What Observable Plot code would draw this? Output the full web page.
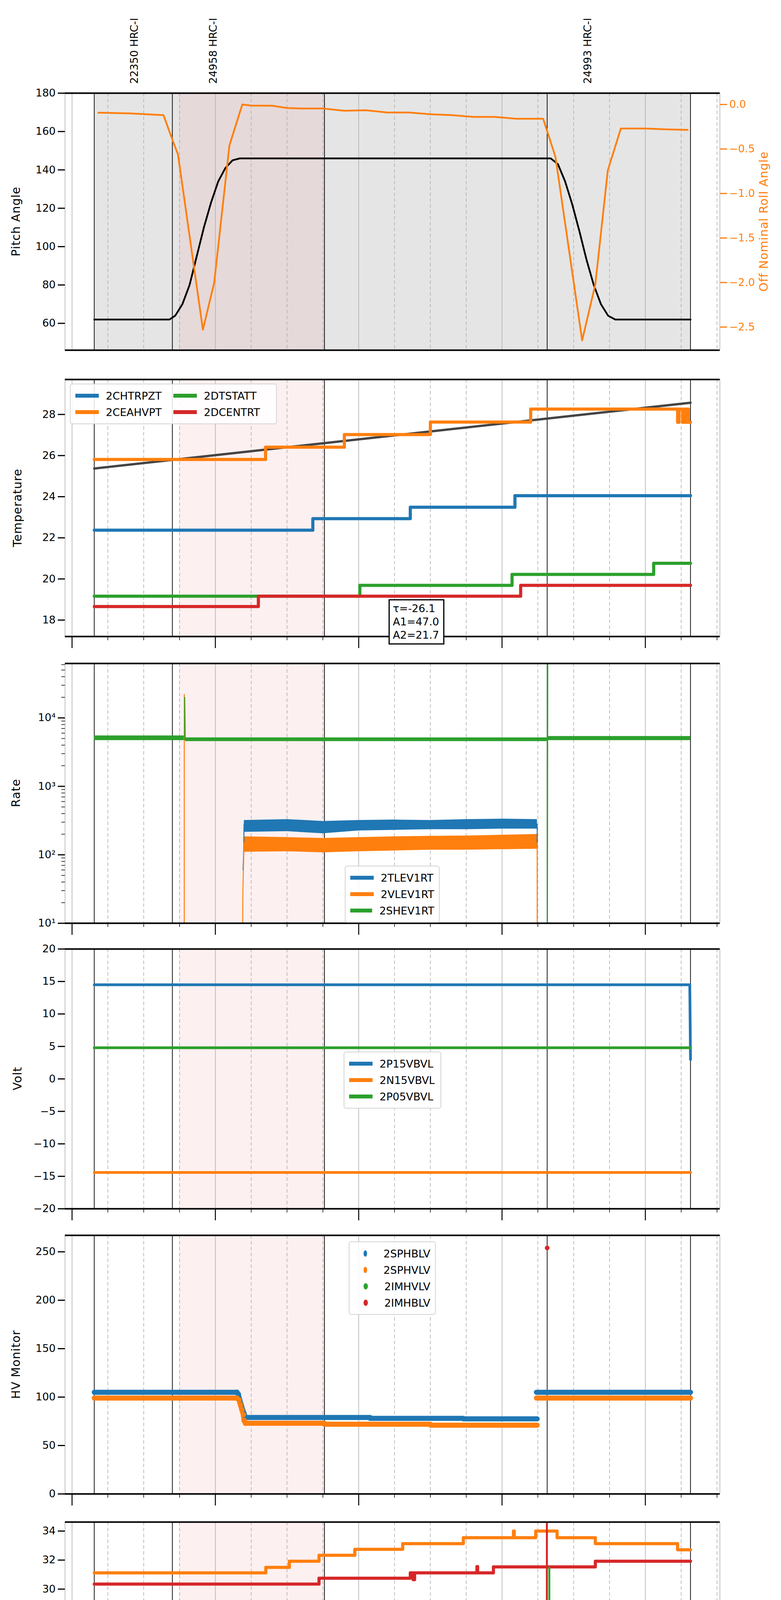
<!DOCTYPE html>
<html><head><meta charset="utf-8">
<script src="https://cdn.jsdelivr.net/npm/d3@7"></script>
<script src="https://cdn.jsdelivr.net/npm/@observablehq/plot@0.6"></script>
<style>
body{margin:0;background:#fff;font-family:"DejaVu Sans",sans-serif}
#c{position:relative;width:2000px;height:5400px;overflow:hidden}
#c svg{position:absolute;left:0;overflow:visible}
.lg{position:absolute;border:2px solid #d4d4d4;border-radius:6px;background:rgba(255,255,255,0.85);font-size:27px;padding:8px 12px;box-sizing:border-box}
.row{height:42px;display:flex;align-items:center;white-space:nowrap}
.hd{width:60px;height:10px;margin-right:18px}
.dt{width:12px;height:16px;border-radius:50%;margin:0 42px 0 24px}
.yl{position:absolute;font-size:30px;white-space:nowrap;transform:translate(-50%,-50%) rotate(-90deg);letter-spacing:1px}
</style></head><body><div id="c"></div>
<script>
// ---------- data ----------
const xDomain = [6.951, 11.52];
const hourTicks = [7, 8, 9, 10, 11];
const quarterTicks = [7.25,7.5,7.75,8.25,8.5,8.75,9.25,9.5,9.75,10.25,10.5,10.75,11.25,11.5];
const hourLabels = ["07h","08h","09h","10h","11h"];
const quarterLabels = ["15","30","45","15","30","45","15","30","45","15","30","45","15","30"];
const blackLines = [7.155, 7.70, 8.761, 10.315, 11.315];
const pinkSpan = [7.747, 8.761];
const graySpan = [7.155, 11.315];
const obsNames = ["22350 HRC-I","24958 HRC-I","24993 HRC-I"];
const obsTimes = [7.436, 7.987, 10.6];
const obsBold = [false, true, false];

const pitch = [[7.155,62],[7.68,62],[7.72,64],[7.77,70],[7.82,80],[7.87,95],[7.92,110],[7.97,123],[8.02,134],[8.07,141],[8.12,145],[8.17,146],[10.34,146],[10.39,143],[10.44,134],[10.49,122],[10.54,108],[10.59,93],[10.64,80],[10.69,70],[10.74,64],[10.79,62],[11.315,62]];
const roll = [[7.183,-0.092],[7.4,-0.1],[7.638,-0.12],[7.708,-0.43],[7.739,-0.56],[7.913,-2.53],[7.992,-2.0],[8.098,-0.46],[8.188,0.0],[8.25,-0.012],[8.4,-0.015],[8.5,-0.04],[8.6,-0.045],[8.75,-0.045],[8.9,-0.07],[9.05,-0.065],[9.2,-0.09],[9.35,-0.09],[9.5,-0.11],[9.65,-0.12],[9.8,-0.14],[9.95,-0.14],[10.1,-0.16],[10.287,-0.16],[10.373,-0.59],[10.559,-2.65],[10.651,-2.02],[10.738,-0.74],[10.829,-0.27],[11.0,-0.27],[11.15,-0.28],[11.295,-0.285]];
const rollTicks = [0,-0.5,-1,-1.5,-2,-2.5];

const t2CHTRPZT = [[7.155,22.37],[8.68,22.93],[9.36,23.49],[10.09,24.05],[11.315,24.05]];
const t2CEAHVPT = [[7.155,25.81],[8.35,26.41],[8.9,27.02],[9.5,27.63],[10.2,28.26],[11.225,27.62],[11.235,28.26],[11.26,27.62],[11.275,28.26],[11.285,27.62],[11.295,28.26],[11.3,27.62],[11.315,27.62]];
const t2DTSTATT = [[7.155,19.16],[9.008,19.69],[10.07,20.22],[11.058,20.76],[11.315,20.76]];
const t2DCENTRT = [[7.155,18.66],[8.30,19.16],[10.13,19.69],[11.315,19.69]];
const tempFit = [[7.155,25.37],[11.315,28.57]];
const fitText = ["τ=-26.1","A1=47.0","A2=21.7"];

const rate2SHEV1RT_t = [7.155,7.78,7.79,10.31,10.32,11.315];
const rate2SHEV1RT_lo = [4700,4700,4550,4550,4700,4700];
const rate2SHEV1RT_hi = [5500,5500,5150,5150,5400,5400];
const rate2TLEV1RT_t = [8.2,8.5,8.75,9.0,9.25,9.5,9.75,10.0,10.245];
const rate2TLEV1RT_lo = [215,220,205,225,230,235,235,240,240];
const rate2TLEV1RT_hi = [320,330,310,320,325,320,330,335,330];
const rate2VLEV1RT_lo = [110,112,108,112,115,118,118,120,122];
const rate2VLEV1RT_hi = [185,180,175,180,185,188,190,195,200];
const rateSpikes = [
  {s:"2VLEV1RT",pts:[[7.783,1],[7.783,22000],[7.785,4800]]},
  {s:"2SHEV1RT",pts:[[7.786,4800],[7.786,20000],[7.79,4800]]},
  {s:"2SHEV1RT",pts:[[10.316,1e6],[10.316,1],[10.32,1e6]]},
  {s:"2TLEV1RT",pts:[[8.193,60],[8.197,100],[8.2,280]]},
  {s:"2VLEV1RT",pts:[[8.188,1],[8.192,30],[8.2,150]]},
  {s:"2TLEV1RT",pts:[[10.245,280],[10.246,130]]},
  {s:"2VLEV1RT",pts:[[10.245,150],[10.246,1]]}
];

const v2P15VBVL = [[7.155,14.5],[11.31,14.5],[11.315,3]];
const v2N15VBVL = [[7.155,-14.4],[11.315,-14.4]];
const v2P05VBVL = [[7.155,4.8],[11.315,4.8]];

const hv2SPHBLV_a = [[7.155,105],[8.15,105],[8.16,103],[8.17,97],[8.18,92],[8.19,87],[8.2,83],[8.21,79],[9.08,79],[9.08,78],[9.73,78],[9.73,77.5],[10.245,77.5]];
const hv2SPHBLV_b = [[10.24,105],[11.315,105]];
const hv2SPHVLV_a = [[7.155,99],[8.15,99],[8.165,97],[8.175,92],[8.185,87],[8.195,82],[8.2,76],[8.21,73],[8.76,73],[8.76,72],[9.5,72],[9.5,71],[10.245,71]];
const hv2SPHVLV_b = [[10.24,99],[11.315,99]];
const hv2IMHBLV = [[10.315,254]];

const d2SPINATM = [[7.155,18.28],[8.601,18.95],[10.367,19.65],[11.315,19.65]];
const d2SPHVATM = [[7.155,31.12],[8.352,31.5],[8.516,31.92],[8.723,32.33],[8.973,32.74],[9.307,33.13],[9.73,33.54],[10.08,34.0],[10.085,33.54],[10.235,34.0],[10.384,33.54],[10.651,33.13],[11.225,32.71],[11.315,32.71]];
const d2IMINATM = [[7.155,18.94],[7.413,19.62],[10.054,20.3],[11.315,20.3]];
const d2IMHVATM = [[7.155,30.35],[8.723,30.75],[9.36,31.12],[9.38,30.65],[9.39,31.12],[9.825,31.55],[9.83,31.12],[9.94,31.53],[10.651,31.92],[11.315,31.92]];
const dSpikes = [{s:"2IMHVATM",pts:[[10.313,0],[10.313,100]]},{s:"2IMINATM",pts:[[10.33,31.5],[10.33,20.3]]}];

const f2FHTRMZT = [[7.155,21.26],[8.326,21.81],[8.962,22.36],[9.622,22.91],[10.359,23.47],[11.315,23.47]];
const f2FRADPYT = [[7.155,16.18],[7.987,16.66],[8.248,17.14],[8.543,17.64],[8.973,18.14],[9.587,18.65],[10.305,19.15],[10.645,18.65],[11.145,18.14],[11.315,18.14]];
const f2FEPRATM = [[7.155,23.14],[8.761,23.87],[9.835,24.63],[11.315,24.63]];
const f2FE00ATM = [[7.155,21.4],[8.127,21.71],[8.504,21.3],[8.51,21.71],[8.556,22.05],[8.562,21.71],[8.64,22.03],[8.657,22.7],[8.663,22.03],[8.785,21.35],[8.79,22.03],[8.89,21.7],[8.895,22.35],[8.9,22.03],[8.997,21.7],[9.0,22.03],[9.025,23.0],[9.03,22.03],[9.09,22.4],[9.095,22.03],[9.144,22.34],[9.64,22.66],[9.86,22.3],[9.865,22.66],[10.08,22.95],[10.085,22.66],[10.115,22.95],[10.12,22.66],[10.18,22.97],[11.315,22.97]];
const fSpikes = [{s:"2FE00ATM",pts:[[10.313,0],[10.313,100]]}];

const C = {blue:"#1f77b4",orange:"#ff7f0e",green:"#2ca02c",red:"#d62728"};

// ---------- helpers ----------
const root = document.getElementById("c");
const W = 2000, ML = 166, MR = 157;
function pts(arr, s, z){ return arr.map(d => ({t:d[0], v:d[1], s, z: z||s})); }

function background(yd, gray){
  const m = [];
  if (gray) m.push(Plot.rect([{a:graySpan[0],b:graySpan[1]}],{x1:"a",x2:"b",fill:"#e5e5e5"}));
  m.push(Plot.rect([{a:pinkSpan[0],b:pinkSpan[1]}],{x1:"a",x2:"b",fill:"rgb(238,125,125)",fillOpacity:0.115}));
  m.push(Plot.ruleX(hourTicks,{stroke:"#b0b0b0",strokeWidth:1.6}));
  m.push(Plot.ruleX(quarterTicks,{stroke:"#b0b0b0",strokeWidth:1.6,strokeDasharray:"9,6"}));
  m.push(Plot.ruleX(blackLines,{stroke:"#000",strokeWidth:1.8}));
  return m;
}
function frame(yd){
  return [
    Plot.ruleX([xDomain[0],xDomain[1]],{stroke:"#999",strokeWidth:1.2}),
    Plot.ruleY([yd[0]],{stroke:"#000",strokeWidth:4}),
    Plot.ruleY([yd[1]],{stroke:"#000",strokeWidth:4})
  ];
}
// tick marks only (no labels), below the frame: px -> data offset
function xTickMarks(yd, h, log){
  const below = px => log ? yd[0]/Math.pow(yd[1]/yd[0], px/h) : yd[0] - px*(yd[1]-yd[0])/h;
  return [
    Plot.ruleX(hourTicks,{y1:()=>yd[0],y2:()=>below(30),stroke:"#000",strokeWidth:2.5,clip:false}),
    Plot.ruleX(quarterTicks,{y1:()=>yd[0],y2:()=>below(10),stroke:"#000",strokeWidth:1.5,clip:false})
  ];
}
function xAxisLabeled(){
  return [
    Plot.axisX(hourTicks,{label:null,tickSize:28,strokeWidth:2.5,tickPadding:16,fontSize:28,tickFormat:(d,i)=>hourLabels[i]}),
    Plot.axisX(quarterTicks,{label:null,tickSize:10,strokeWidth:1.5,tickPadding:4,fontSize:18,tickFormat:(d,i)=>quarterLabels[i]})
  ];
}
function panel({top, bottom, mt=10, mb=50, y, marks}){
  const h = bottom - top;
  const svg = Plot.plot({
    width:W, height:h+mt+mb, marginLeft:ML, marginRight:MR, marginTop:mt, marginBottom:mb,
    style:{fontFamily:"DejaVu Sans",fontSize:"27px",background:"transparent",overflow:"visible"},
    x:{domain:xDomain, axis:null},
    y:Object.assign({axis:null}, y),
    marks
  });
  svg.style.top = (top-mt)+"px";
  root.appendChild(svg);
}
function ylabel(text, cx, cy, color){
  const d = document.createElement("div"); d.className="yl"; d.textContent=text;
  d.style.left=cx+"px"; d.style.top=cy+"px"; if(color) d.style.color=color;
  root.appendChild(d);
}
function legend(items, left, top, width, dots, cols){
  const d = document.createElement("div"); d.className="lg";
  d.style.left=left+"px"; d.style.top=top+"px"; d.style.width=width+"px";
  if (cols) { d.style.display="grid"; d.style.gridTemplateColumns="1fr 1fr"; d.style.gridAutoFlow="column"; d.style.gridTemplateRows="42px 42px"; }
  for (const [name,col] of items){
    const r=document.createElement("div"); r.className="row";
    const h=document.createElement("div"); h.className=dots?"dt":"hd"; h.style.background=col;
    r.appendChild(h); r.appendChild(document.createTextNode(name)); d.appendChild(r);
  }
  root.appendChild(d);
}
function yAxis(ticks, fmt){ return Plot.axisY(ticks,{label:null,tickSize:18,strokeWidth:3,tickPadding:6,fontSize:27,tickFormat:fmt||(d=>d)}); }

// ---------- Panel 1 ----------
{
  const yd=[46,180], rd=[-2.76,0.127];
  const r2p = r => yd[0] + (r-rd[0])/(rd[1]-rd[0])*(yd[1]-yd[0]);
  panel({top:238,bottom:896,mt:236,mb:10,y:{domain:yd},marks:[
    ...background(yd,true),
    Plot.line(pts(pitch,"pitch"),{x:"t",y:"v",stroke:"#000",strokeWidth:4.5}),
    Plot.line(roll.map(d=>({t:d[0],v:r2p(d[1])})),{x:"t",y:"v",stroke:C.orange,strokeWidth:4.5}),
    ...frame(yd),
    yAxis([60,80,100,120,140,160,180]),
    Plot.axisY(rollTicks.map(r2p),{anchor:"right",label:null,tickSize:18,strokeWidth:3,tickPadding:6,fontSize:27,stroke:C.orange,fill:C.orange,color:C.orange,tickFormat:(d,i)=>{const v=rollTicks[i];return (v<0?"−":"")+Math.abs(v).toFixed(1);}}),
    Plot.text(obsNames.map((n,i)=>({n,t:obsTimes[i],b:obsBold[i]})),{x:"t",y:()=>yd[1],text:"n",rotate:-90,textAnchor:"start",dy:-24,fontSize:27,fontWeight:d=>d.b?"bold":"normal",fill:"#000",clip:false})
  ]});
  ylabel("Pitch Angle",40,567);
  ylabel("Off Nominal Roll Angle",1955,567,C.orange);
}
// ---------- Panel 2 ----------
{
  const yd=[17.2,29.7];
  panel({top:971,bottom:1629,y:{domain:yd},marks:[
    ...background(yd),
    Plot.line(pts(tempFit,"fit"),{x:"t",y:"v",stroke:"#444",strokeWidth:6}),
    Plot.line([...pts(t2CHTRPZT,"a"),...pts(t2CEAHVPT,"b"),...pts(t2DTSTATT,"c"),...pts(t2DCENTRT,"d")],{x:"t",y:"v",z:"s",stroke:d=>({a:C.blue,b:C.orange,c:C.green,d:C.red})[d.s],curve:"step-after",strokeWidth:8}),
    ...frame(yd),
    yAxis([18,20,22,24,26,28]),
    ...xTickMarks(yd,658)
  ]});
  ylabel("Temperature",44,1300);
  legend([["2CHTRPZT",C.blue],["2CEAHVPT",C.orange],["2DTSTATT",C.green],["2DCENTRT",C.red]],179,982,530,false,true);
  const b=document.createElement("div");
  b.style.cssText="position:absolute;left:995px;top:1534px;width:143px;height:116px;border:3px solid #000;background:#fff;font-size:27px;line-height:34px;padding:4px 8px;box-sizing:border-box";
  b.innerHTML=fitText.join("<br>"); root.appendChild(b);
}
// ---------- Panel 3 ----------
{
  const yd=[10,62400];
  const band=(t,lo,hi,s)=>t.map((x,i)=>({t:x,lo:lo[i],hi:hi[i],s}));
  const sc={"2TLEV1RT":C.blue,"2VLEV1RT":C.orange,"2SHEV1RT":C.green};
  panel({top:1698,bottom:2363,y:{type:"log",domain:yd},marks:[
    ...background(yd),
    Plot.areaY(band(rate2SHEV1RT_t,rate2SHEV1RT_lo,rate2SHEV1RT_hi),{x:"t",y1:"lo",y2:"hi",fill:C.green,curve:"step-after"}),
    Plot.areaY(band(rate2TLEV1RT_t,rate2TLEV1RT_lo,rate2TLEV1RT_hi),{x:"t",y1:"lo",y2:"hi",fill:C.blue}),
    Plot.areaY(band(rate2TLEV1RT_t,rate2VLEV1RT_lo,rate2VLEV1RT_hi),{x:"t",y1:"lo",y2:"hi",fill:C.orange}),
    Plot.line(rateSpikes.flatMap((sp,i)=>pts(sp.pts,sp.s,"k"+i)),{x:"t",y:"v",z:"z",stroke:d=>sc[d.s],strokeWidth:2.5,clip:true}),
    ...frame(yd),
    yAxis([10,100,1000,10000],d=>"10"+({10:"¹",100:"²",1000:"³",10000:"⁴"})[d]),
    Plot.ruleY([20,30,40,50,60,70,80,90,200,300,400,500,600,700,800,900,2000,3000,4000,5000,6000,7000,8000,9000,20000,30000,40000,50000,60000],{x1:()=>xDomain[0],x2:()=>xDomain[0]-9*(xDomain[1]-xDomain[0])/1677,stroke:"#000",strokeWidth:1.5,clip:false}),
    ...xTickMarks(yd,665,true)
  ]});
  ylabel("Rate",40,2030);
  legend([["2TLEV1RT",C.blue],["2VLEV1RT",C.orange],["2SHEV1RT",C.green]],883,2216,243);
}
// ---------- Panel 4 ----------
{
  const yd=[-20,20];
  panel({top:2429,bottom:3094,y:{domain:yd},marks:[
    ...background(yd),
    Plot.line([...pts(v2P15VBVL,"a"),...pts(v2N15VBVL,"b"),...pts(v2P05VBVL,"c")],{x:"t",y:"v",z:"s",stroke:d=>({a:C.blue,b:C.orange,c:C.green})[d.s],strokeWidth:7}),
    ...frame(yd),
    yAxis([-20,-15,-10,-5,0,5,10,15,20],d=>d<0?"−"+(-d):d),
    ...xTickMarks(yd,665)
  ]});
  ylabel("Volt",44,2761);
  legend([["2P15VBVL",C.blue],["2N15VBVL",C.orange],["2P05VBVL",C.green]],880,2692,250);
}
// ---------- Panel 5 ----------
{
  const yd=[0,267];
  const d=[...pts(hv2SPHBLV_a,"a","a1"),...pts(hv2SPHBLV_b,"a","a2"),...pts(hv2SPHVLV_a,"b","b1"),...pts(hv2SPHVLV_b,"b","b2")];
  panel({top:3162,bottom:3824,y:{domain:yd},marks:[
    ...background(yd),
    Plot.line(d,{x:"t",y:"v",z:"z",stroke:x=>x.s==="a"?C.blue:C.orange,strokeWidth:13,strokeLinecap:"round",strokeLinejoin:"round"}),
    Plot.dot(d.filter(x=>x.t>8.14&&x.t<8.22),{x:"t",y:"v",r:7,fill:x=>x.s==="a"?C.blue:C.orange}),
    Plot.dot(pts(hv2IMHBLV,"c"),{x:"t",y:"v",r:6,fill:C.red}),
    ...frame(yd),
    yAxis([0,50,100,150,200,250]),
    ...xTickMarks(yd,662)
  ]});
  ylabel("HV Monitor",40,3493);
  legend([["2SPHBLV",C.blue],["2SPHVLV",C.orange],["2IMHVLV",C.green],["2IMHBLV",C.red]],893,3178,223,true);
}
// ---------- Panel 6 ----------
{
  const yd=[16.8,34.62];
  const cm={"2SPINATM":C.blue,"2SPHVATM":C.orange,"2IMINATM":C.green,"2IMHVATM":C.red};
  panel({top:3896,bottom:4558,y:{domain:yd},marks:[
    ...background(yd),
    Plot.line([...pts(d2SPINATM,"2SPINATM"),...pts(d2SPHVATM,"2SPHVATM"),...pts(d2IMINATM,"2IMINATM"),...pts(d2IMHVATM,"2IMHVATM")],{x:"t",y:"v",z:"s",stroke:d=>cm[d.s],curve:"step-after",strokeWidth:8}),
    Plot.line(dSpikes.flatMap((sp,i)=>pts(sp.pts,sp.s,"k"+i)),{x:"t",y:"v",z:"z",stroke:d=>cm[d.s],strokeWidth:5,clip:true}),
    ...frame(yd),
    yAxis([18,20,22,24,26,28,30,32,34]),
    ...xTickMarks(yd,662)
  ]});
  ylabel("Detector Temp",44,4227);
  legend([["2SPINATM",C.blue],["2SPHVATM",C.orange],["2IMINATM",C.green],["2IMHVATM",C.red]],880,4139,249);
}
// ---------- Panel 7 ----------
{
  const yd=[15.15,25.39];
  const cm={"2FHTRMZT":C.blue,"2FRADPYT":C.orange,"2FEPRATM":C.green,"2FE00ATM":C.red};
  panel({top:4627,bottom:5291,mb:109,y:{domain:yd},marks:[
    ...background(yd),
    Plot.line([...pts(f2FHTRMZT,"2FHTRMZT"),...pts(f2FRADPYT,"2FRADPYT"),...pts(f2FEPRATM,"2FEPRATM"),...pts(f2FE00ATM,"2FE00ATM")],{x:"t",y:"v",z:"s",stroke:d=>cm[d.s],curve:"step-after",strokeWidth:7}),
    Plot.line(fSpikes.flatMap((sp,i)=>pts(sp.pts,sp.s,"k"+i)),{x:"t",y:"v",z:"z",stroke:d=>cm[d.s],strokeWidth:7,clip:true}),
    ...frame(yd),
    yAxis([16,18,20,22,24]),
    ...xAxisLabeled()
  ]});
  ylabel("FEA Temp",44,4959);
  legend([["2FHTRMZT",C.blue],["2FRADPYT",C.orange],["2FEPRATM",C.green],["2FE00ATM",C.red]],880,4871,249);
  const xl=document.createElement("div");
  xl.style.cssText="position:absolute;left:1004px;top:5380px;transform:translate(-50%,-50%);font-size:32px;white-space:nowrap";
  xl.textContent="2021-03-22 (081)"; root.appendChild(xl);
}
</script></body></html>
